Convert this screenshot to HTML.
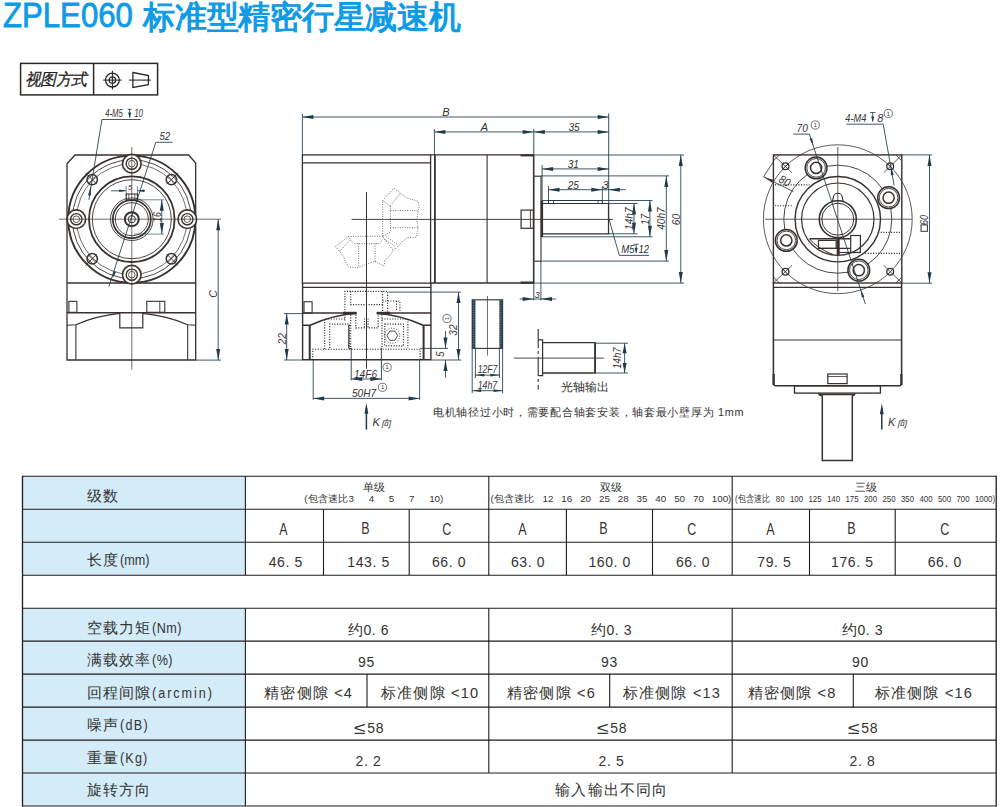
<!DOCTYPE html>
<html lang="zh"><head><meta charset="utf-8"><title>ZPLE060</title>
<style>
html,body{margin:0;padding:0;background:#fff;}
body{width:1002px;height:807px;position:relative;overflow:hidden;font-family:"Liberation Sans",sans-serif;color:#333;}
#title{position:absolute;left:2.6px;top:-9.3px;white-space:nowrap;color:#0d9be6;font-size:35.4px;line-height:48px;-webkit-text-stroke:0.85px #0d9be6;}
#title .l{display:inline-block;transform:scaleX(0.88);transform-origin:0 50%;width:140.7px;}
#title .c{font-size:31.9px;letter-spacing:-0.28px;font-weight:500;-webkit-text-stroke:1.15px #0d9be6;position:relative;top:1.7px;}
svg{position:absolute;left:0;top:0;}
.vm{position:absolute;left:25.3px;top:69.1px;font-size:16.6px;line-height:22px;font-style:italic;color:#222;letter-spacing:-0.9px;white-space:nowrap;-webkit-text-stroke:0.25px #222;transform:scaleX(0.955);transform-origin:0 50%;}
.nt{position:absolute;font-size:10.8px;line-height:14px;color:#333;white-space:nowrap;letter-spacing:0.35px;}
.lab{position:absolute;left:86.6px;font-size:14.8px;line-height:20px;letter-spacing:1.0px;white-space:nowrap;color:#333;}
.lab .en{letter-spacing:0.5px;font-size:14px;display:inline-block;transform:scaleX(0.9);transform-origin:0 50%;margin-left:1px;}
.v{position:absolute;text-align:center;font-size:14px;line-height:20px;white-space:nowrap;color:#333;letter-spacing:0.6px;}
.cjv{font-size:14.5px;}
.abc{font-size:16px;}
.sx{display:inline-block;transform:scaleX(0.78);}
.gap{font-size:14.5px;letter-spacing:1.2px;}
.le{font-size:17px;display:inline-block;transform:scaleX(1.25) translateY(0.5px);margin-right:2.5px;line-height:10px;}
.hd{position:absolute;text-align:center;font-size:10.5px;line-height:13px;color:#333;white-space:nowrap;}
.hd2{position:absolute;font-size:9.8px;line-height:13px;color:#333;white-space:nowrap;text-align:justify;text-align-last:justify;}
.hd2 .cj{letter-spacing:0.2px;display:inline-block;text-align-last:auto;}
.nar{transform:scaleX(0.8);transform-origin:0 50%;}
.kx{position:absolute;font-size:10.5px;line-height:14px;font-style:italic;color:#333;}
</style></head><body>
<div id="title"><span class="l">ZPLE060</span><span class="c">标准型精密行星减速机</span></div>
<svg width="1002" height="807" viewBox="0 0 1002 807">
<rect x="22.5" y="476.30" width="222.9" height="32.97" fill="#d4ebf8"/>
<rect x="22.5" y="509.27" width="222.9" height="32.97" fill="#d4ebf8"/>
<rect x="22.5" y="542.24" width="222.9" height="32.97" fill="#d4ebf8"/>
<rect x="22.5" y="608.18" width="222.9" height="32.97" fill="#d4ebf8"/>
<rect x="22.5" y="641.15" width="222.9" height="32.97" fill="#d4ebf8"/>
<rect x="22.5" y="674.12" width="222.9" height="32.97" fill="#d4ebf8"/>
<rect x="22.5" y="707.09" width="222.9" height="32.97" fill="#d4ebf8"/>
<rect x="22.5" y="740.06" width="222.9" height="32.97" fill="#d4ebf8"/>
<rect x="22.5" y="773.03" width="222.9" height="32.97" fill="#d4ebf8"/>
<line x1="22.5" y1="476.3" x2="996.2" y2="476.3" stroke="#1c1c1c" stroke-width="1.1" />
<line x1="22.5" y1="509.3" x2="996.2" y2="509.3" stroke="#1c1c1c" stroke-width="1.1" />
<line x1="22.5" y1="542.2" x2="996.2" y2="542.2" stroke="#1c1c1c" stroke-width="1.1" />
<line x1="22.5" y1="575.2" x2="996.2" y2="575.2" stroke="#1c1c1c" stroke-width="1.1" />
<line x1="22.5" y1="608.2" x2="996.2" y2="608.2" stroke="#1c1c1c" stroke-width="1.1" />
<line x1="22.5" y1="641.1" x2="996.2" y2="641.1" stroke="#1c1c1c" stroke-width="1.1" />
<line x1="22.5" y1="674.1" x2="996.2" y2="674.1" stroke="#1c1c1c" stroke-width="1.1" />
<line x1="22.5" y1="707.1" x2="996.2" y2="707.1" stroke="#1c1c1c" stroke-width="1.1" />
<line x1="22.5" y1="740.1" x2="996.2" y2="740.1" stroke="#1c1c1c" stroke-width="1.1" />
<line x1="22.5" y1="773.0" x2="996.2" y2="773.0" stroke="#1c1c1c" stroke-width="1.1" />
<line x1="22.5" y1="806.0" x2="996.2" y2="806.0" stroke="#1c1c1c" stroke-width="1.1" />
<line x1="22.5" y1="475.8" x2="22.5" y2="806.5" stroke="#1c1c1c" stroke-width="1.3" />
<line x1="996.2" y1="475.8" x2="996.2" y2="806.5" stroke="#1c1c1c" stroke-width="1.3" />
<line x1="245.4" y1="476.3" x2="245.4" y2="575.2" stroke="#1c1c1c" stroke-width="1.1" />
<line x1="245.4" y1="608.2" x2="245.4" y2="806.0" stroke="#1c1c1c" stroke-width="1.1" />
<line x1="488.8" y1="476.3" x2="488.8" y2="575.2" stroke="#1c1c1c" stroke-width="1.1" />
<line x1="488.8" y1="608.2" x2="488.8" y2="773.0" stroke="#1c1c1c" stroke-width="1.1" />
<line x1="732.2" y1="476.3" x2="732.2" y2="575.2" stroke="#1c1c1c" stroke-width="1.1" />
<line x1="732.2" y1="608.2" x2="732.2" y2="773.0" stroke="#1c1c1c" stroke-width="1.1" />
<line x1="323.5" y1="509.3" x2="323.5" y2="575.2" stroke="#1c1c1c" stroke-width="1.1" />
<line x1="409.2" y1="509.3" x2="409.2" y2="575.2" stroke="#1c1c1c" stroke-width="1.1" />
<line x1="566.4" y1="509.3" x2="566.4" y2="575.2" stroke="#1c1c1c" stroke-width="1.1" />
<line x1="652.5" y1="509.3" x2="652.5" y2="575.2" stroke="#1c1c1c" stroke-width="1.1" />
<line x1="809.5" y1="509.3" x2="809.5" y2="575.2" stroke="#1c1c1c" stroke-width="1.1" />
<line x1="895.2" y1="509.3" x2="895.2" y2="575.2" stroke="#1c1c1c" stroke-width="1.1" />
<line x1="367.0" y1="674.1" x2="367.0" y2="707.1" stroke="#1c1c1c" stroke-width="1.1" />
<line x1="609.7" y1="674.1" x2="609.7" y2="707.1" stroke="#1c1c1c" stroke-width="1.1" />
<line x1="853.3" y1="674.1" x2="853.3" y2="707.1" stroke="#1c1c1c" stroke-width="1.1" />
<rect x="20.6" y="63.4" width="137.0" height="31.5" fill="none" stroke="#2a2a2a" stroke-width="1.5" />
<line x1="93.6" y1="63.4" x2="93.6" y2="94.9" stroke="#2a2a2a" stroke-width="1.5" />
<circle cx="112.4" cy="80.1" r="6.9" fill="none" stroke="#2a2a2a" stroke-width="1.3" />
<circle cx="112.4" cy="80.1" r="3.2" fill="none" stroke="#2a2a2a" stroke-width="1.3" />
<line x1="103.2" y1="80.1" x2="121.6" y2="80.1" stroke="#2a2a2a" stroke-width="1.1" />
<line x1="112.4" y1="70.8" x2="112.4" y2="89.4" stroke="#2a2a2a" stroke-width="1.1" />
<path d="M132.9,72.5 L148.4,75.5 L148.4,84.6 L132.9,87.4 Z" fill="none" stroke="#2a2a2a" stroke-width="1.3" />
<line x1="128.9" y1="80.1" x2="150.8" y2="80.1" stroke="#2a2a2a" stroke-width="1.1" />
<path d="M67,163.8 L75,155 L188.7,155 L195.7,163 L195.7,360 L67,360 Z" fill="none" stroke="#37312f" stroke-width="1.3" />
<line x1="67.0" y1="283.0" x2="195.7" y2="283.0" stroke="#37312f" stroke-width="1.3" />
<circle cx="131.8" cy="219.2" r="63.6" fill="none" stroke="#37312f" stroke-width="1.9" />
<circle cx="131.8" cy="219.2" r="59.4" fill="none" stroke="#37312f" stroke-width="0.9" />
<circle cx="131.8" cy="219.2" r="55.3" fill="none" stroke="#37312f" stroke-width="0.7" />
<circle cx="131.8" cy="219.2" r="42.8" fill="none" stroke="#37312f" stroke-width="1.8" />
<circle cx="131.8" cy="219.2" r="39.5" fill="none" stroke="#37312f" stroke-width="0.9" />
<circle cx="131.8" cy="219.2" r="21.3" fill="none" stroke="#37312f" stroke-width="0.9" />
<circle cx="131.8" cy="219.2" r="19.0" fill="none" stroke="#37312f" stroke-width="1.7" />
<circle cx="131.8" cy="219.2" r="16.5" fill="none" stroke="#37312f" stroke-width="0.9" />
<circle cx="131.8" cy="219.2" r="7.0" fill="none" stroke="#37312f" stroke-width="2.0" />
<circle cx="131.8" cy="219.2" r="3.6" fill="none" stroke="#37312f" stroke-width="1.0" />
<circle cx="187.3" cy="219.2" r="9.3" fill="#fff" stroke="#37312f" stroke-width="1.6"/>
<circle cx="187.3" cy="219.2" r="5.6" fill="none" stroke="#37312f" stroke-width="1.4" />
<circle cx="187.3" cy="219.2" r="3.3" fill="none" stroke="#37312f" stroke-width="0.8" />
<circle cx="131.8" cy="274.7" r="9.3" fill="#fff" stroke="#37312f" stroke-width="1.6"/>
<circle cx="131.8" cy="274.7" r="5.6" fill="none" stroke="#37312f" stroke-width="1.4" />
<circle cx="131.8" cy="274.7" r="3.3" fill="none" stroke="#37312f" stroke-width="0.8" />
<circle cx="76.3" cy="219.2" r="9.3" fill="#fff" stroke="#37312f" stroke-width="1.6"/>
<circle cx="76.3" cy="219.2" r="5.6" fill="none" stroke="#37312f" stroke-width="1.4" />
<circle cx="76.3" cy="219.2" r="3.3" fill="none" stroke="#37312f" stroke-width="0.8" />
<circle cx="131.8" cy="163.7" r="9.3" fill="#fff" stroke="#37312f" stroke-width="1.6"/>
<circle cx="131.8" cy="163.7" r="5.6" fill="none" stroke="#37312f" stroke-width="1.4" />
<circle cx="131.8" cy="163.7" r="3.3" fill="none" stroke="#37312f" stroke-width="0.8" />
<circle cx="171.4" cy="258.8" r="5.2" fill="none" stroke="#37312f" stroke-width="1.5" />
<line x1="166.8" y1="254.2" x2="178.1" y2="265.5" stroke="#37312f" stroke-width="0.9" />
<line x1="175.3" y1="254.9" x2="167.5" y2="262.7" stroke="#37312f" stroke-width="0.9" />
<circle cx="92.2" cy="258.8" r="5.2" fill="none" stroke="#37312f" stroke-width="1.5" />
<line x1="96.8" y1="254.2" x2="85.5" y2="265.5" stroke="#37312f" stroke-width="0.9" />
<line x1="96.1" y1="262.7" x2="88.3" y2="254.9" stroke="#37312f" stroke-width="0.9" />
<circle cx="92.2" cy="179.6" r="5.2" fill="none" stroke="#37312f" stroke-width="1.5" />
<line x1="96.8" y1="184.2" x2="85.5" y2="172.9" stroke="#37312f" stroke-width="0.9" />
<line x1="88.3" y1="183.5" x2="96.1" y2="175.7" stroke="#37312f" stroke-width="0.9" />
<circle cx="171.4" cy="179.6" r="5.2" fill="none" stroke="#37312f" stroke-width="1.5" />
<line x1="166.8" y1="184.2" x2="178.1" y2="172.9" stroke="#37312f" stroke-width="0.9" />
<line x1="167.5" y1="175.7" x2="175.3" y2="183.5" stroke="#37312f" stroke-width="0.9" />
<rect x="126.2" y="194.0" width="11.2" height="6.0" fill="none" stroke="#37312f" stroke-width="1.1" />
<line x1="128.8" y1="194.0" x2="128.8" y2="200.0" stroke="#37312f" stroke-width="0.7" />
<line x1="134.8" y1="194.0" x2="134.8" y2="200.0" stroke="#37312f" stroke-width="0.7" />
<line x1="110.9" y1="190.8" x2="125.8" y2="190.8" stroke="#1f3b48" stroke-width="0.85" />
<polygon points="126.2,190.8 119.2,192.1 119.2,189.5" fill="#1f3b48"/>
<line x1="137.6" y1="190.8" x2="145.0" y2="190.8" stroke="#1f3b48" stroke-width="0.85" />
<polygon points="137.4,190.8 144.4,189.5 144.4,192.1" fill="#1f3b48"/>
<line x1="126.2" y1="186.0" x2="126.2" y2="196.0" stroke="#1f3b48" stroke-width="0.6" />
<line x1="137.4" y1="186.0" x2="137.4" y2="196.0" stroke="#1f3b48" stroke-width="0.6" />
<text x="130.0" y="189.5" font-size="7.5" text-anchor="middle" font-style="italic" font-weight="normal" fill="#333" font-family="Liberation Sans, sans-serif">5</text>
<line x1="137.8" y1="199.8" x2="164.0" y2="199.8" stroke="#1f3b48" stroke-width="0.6" />
<line x1="134.0" y1="234.1" x2="164.0" y2="234.1" stroke="#1f3b48" stroke-width="0.6" />
<line x1="161.8" y1="199.8" x2="161.8" y2="234.1" stroke="#1f3b48" stroke-width="0.85" />
<polygon points="161.8,199.8 163.8,210.8 159.8,210.8" fill="#1f3b48"/>
<polygon points="161.8,234.1 159.8,223.1 163.8,223.1" fill="#1f3b48"/>
<text x="160.6" y="217.0" font-size="10" text-anchor="middle" font-style="italic" font-weight="normal" fill="#333" font-family="Liberation Sans, sans-serif" transform="rotate(-90 160.6 217.0)" textLength="9.8" lengthAdjust="spacingAndGlyphs">16</text>
<line x1="155.8" y1="142.3" x2="172.7" y2="142.3" stroke="#1f3b48" stroke-width="0.85" />
<line x1="155.8" y1="142.3" x2="108.9" y2="286.5" stroke="#1f3b48" stroke-width="0.85" />
<text x="164.8" y="139.8" font-size="11" text-anchor="middle" font-style="italic" font-weight="normal" fill="#333" font-family="Liberation Sans, sans-serif" textLength="10.8" lengthAdjust="spacingAndGlyphs">52</text>
<polygon points="112.6,278.2 113.6,271.1 116.0,271.9" fill="#1f3b48"/>
<line x1="101.9" y1="119.5" x2="140.8" y2="119.5" stroke="#1f3b48" stroke-width="0.85" />
<line x1="101.9" y1="119.5" x2="88.9" y2="199.8" stroke="#1f3b48" stroke-width="0.85" />
<polygon points="90.8,186.5 90.8,195.6 88.0,195.2" fill="#1f3b48"/>
<text x="105.2" y="117.0" font-size="10.5" text-anchor="start" font-style="italic" font-weight="normal" fill="#333" font-family="Liberation Sans, sans-serif" textLength="17.6" lengthAdjust="spacingAndGlyphs">4-M5</text>
<text x="134.2" y="117.0" font-size="10.5" text-anchor="start" font-style="italic" font-weight="normal" fill="#333" font-family="Liberation Sans, sans-serif" textLength="8.8" lengthAdjust="spacingAndGlyphs">10</text>
<line x1="127.7" y1="109.3" x2="131.7" y2="109.3" stroke="#1f3b48" stroke-width="0.8" />
<line x1="129.7" y1="109.3" x2="129.7" y2="117.6" stroke="#1f3b48" stroke-width="0.8" />
<polygon points="129.7,118.1 128.2,112.6 131.2,112.6" fill="#1f3b48"/>
<rect x="68.9" y="301.3" width="8.0" height="11.0" fill="none" stroke="#37312f" stroke-width="1.1" />
<rect x="146.8" y="301.3" width="18.0" height="11.0" fill="none" stroke="#37312f" stroke-width="1.1" />
<line x1="159.8" y1="301.3" x2="159.8" y2="312.3" stroke="#37312f" stroke-width="0.9" />
<line x1="67.0" y1="312.8" x2="195.7" y2="312.8" stroke="#37312f" stroke-width="1.6" />
<path d="M119.8,312.8 L119.8,327.8 L142.8,327.8 L142.8,312.8" fill="none" stroke="#37312f" stroke-width="1.2" />
<path d="M119.8,313.4 Q95,316 75.9,324.8 L67,325.3" fill="none" stroke="#37312f" stroke-width="1.1" />
<path d="M142.8,313.4 Q168,316 187.7,324.8 L195.7,325.3" fill="none" stroke="#37312f" stroke-width="1.1" />
<line x1="75.9" y1="324.8" x2="75.9" y2="360.0" stroke="#37312f" stroke-width="1.1" />
<line x1="187.7" y1="324.8" x2="187.7" y2="360.0" stroke="#37312f" stroke-width="1.1" />
<line x1="131.8" y1="147.0" x2="131.8" y2="369.7" stroke="#37312f" stroke-width="0.7" />
<line x1="59.0" y1="219.2" x2="221.0" y2="219.2" stroke="#37312f" stroke-width="0.7" />
<line x1="195.7" y1="360.1" x2="221.0" y2="360.1" stroke="#1f3b48" stroke-width="0.85" />
<line x1="218.2" y1="219.2" x2="218.2" y2="360.1" stroke="#1f3b48" stroke-width="0.85" />
<polygon points="218.2,219.2 220.2,230.2 216.2,230.2" fill="#1f3b48"/>
<polygon points="218.2,360.1 216.2,349.1 220.2,349.1" fill="#1f3b48"/>
<text x="217.0" y="294.0" font-size="10.5" text-anchor="middle" font-style="italic" font-weight="normal" fill="#333" font-family="Liberation Sans, sans-serif" transform="rotate(-90 217.0 294.0)">C</text>
<line x1="302.4" y1="114.0" x2="302.4" y2="155.0" stroke="#1f3b48" stroke-width="0.85" />
<line x1="302.4" y1="117.0" x2="608.7" y2="117.0" stroke="#1f3b48" stroke-width="0.85" />
<polygon points="302.4,117.0 313.4,115.0 313.4,119.0" fill="#1f3b48"/>
<polygon points="608.7,117.0 597.7,119.0 597.7,115.0" fill="#1f3b48"/>
<text x="446.0" y="116.0" font-size="11" text-anchor="middle" font-style="italic" font-weight="normal" fill="#333" font-family="Liberation Sans, sans-serif">B</text>
<line x1="434.4" y1="129.0" x2="434.4" y2="155.0" stroke="#1f3b48" stroke-width="0.85" />
<line x1="434.4" y1="131.9" x2="533.6" y2="131.9" stroke="#1f3b48" stroke-width="0.85" />
<polygon points="434.4,131.9 445.4,129.9 445.4,133.9" fill="#1f3b48"/>
<polygon points="533.6,131.9 522.6,133.9 522.6,129.9" fill="#1f3b48"/>
<text x="484.3" y="131.0" font-size="11" text-anchor="middle" font-style="italic" font-weight="normal" fill="#333" font-family="Liberation Sans, sans-serif">A</text>
<line x1="533.8" y1="129.0" x2="533.8" y2="300.5" stroke="#1f3b48" stroke-width="0.9" />
<line x1="533.8" y1="131.9" x2="608.7" y2="131.9" stroke="#1f3b48" stroke-width="0.85" />
<polygon points="533.8,131.9 544.8,129.9 544.8,133.9" fill="#1f3b48"/>
<polygon points="608.7,131.9 597.7,133.9 597.7,129.9" fill="#1f3b48"/>
<text x="574.1" y="131.0" font-size="11.5" text-anchor="middle" font-style="italic" font-weight="normal" fill="#333" font-family="Liberation Sans, sans-serif" textLength="11.3" lengthAdjust="spacingAndGlyphs">35</text>
<line x1="608.7" y1="113.5" x2="608.7" y2="219.4" stroke="#1f3b48" stroke-width="0.9" />
<rect x="302.4" y="154.9" width="128.2" height="128.2" fill="none" stroke="#37312f" stroke-width="1.3" />
<line x1="302.4" y1="162.9" x2="430.6" y2="162.9" stroke="#37312f" stroke-width="1.3" />
<line x1="434.9" y1="154.9" x2="434.9" y2="283.1" stroke="#37312f" stroke-width="1.8" />
<path d="M430.6,154.9 L533.6,154.9 M430.6,283 L533.6,283" fill="none" stroke="#37312f" stroke-width="1.3" />
<line x1="533.6" y1="154.9" x2="533.6" y2="283.0" stroke="#37312f" stroke-width="1.4" />
<line x1="487.1" y1="154.9" x2="487.1" y2="283.0" stroke="#37312f" stroke-width="1.1" />
<line x1="520.6" y1="155.3" x2="533.6" y2="155.3" stroke="#37312f" stroke-width="2.2" />
<line x1="520.6" y1="282.6" x2="533.6" y2="282.6" stroke="#37312f" stroke-width="2.2" />
<line x1="302.4" y1="287.4" x2="431.0" y2="287.4" stroke="#37312f" stroke-width="1.4" />
<line x1="351.6" y1="219.4" x2="613.0" y2="219.4" stroke="#37312f" stroke-width="0.9" />
<line x1="366.5" y1="192.0" x2="366.5" y2="368.6" stroke="#37312f" stroke-width="1.0" />
<path d="M382.7,200.6 L393.9,188.2 L406.3,197.7 L418.1,201.2 L419.2,206.5 L416.9,218.9 L418.1,228.3 L416.3,237.1 L407.4,237.7 L402.7,241.2 L393.3,250.7 L382.7,236.5 L382.7,200.6" fill="none" stroke="#3a3a3a" stroke-width="0.8" stroke-dasharray="0.9 1.5"/>
<path d="M382.7,200.6 L390.4,205.9 L390.4,231.8 L382.7,236.5" fill="none" stroke="#3a3a3a" stroke-width="0.8" stroke-dasharray="0.9 1.5"/>
<path d="M390.4,210.6 L418.1,210.6" fill="none" stroke="#3a3a3a" stroke-width="0.8" stroke-dasharray="0.9 1.5"/>
<path d="M390.4,227.7 L418.1,227.7" fill="none" stroke="#3a3a3a" stroke-width="0.8" stroke-dasharray="0.9 1.5"/>
<path d="M390.4,205.9 L400.4,193.0" fill="none" stroke="#3a3a3a" stroke-width="0.8" stroke-dasharray="0.9 1.5"/>
<path d="M382.7,236.3 L348.6,236.3 L335.6,246.5 L343.8,256.6 L345.0,260.7 L348.6,267.2 L358.0,267.8 L366.2,264.2 L374.5,261.3 L383.9,266.0 L385.1,260.1 L389.2,256.6 L393.3,250.7" fill="none" stroke="#3a3a3a" stroke-width="0.8" stroke-dasharray="0.9 1.5"/>
<path d="M348.6,236.3 L350.3,240.1 L354.4,243.6 L379.2,243.6 L382.7,238.9" fill="none" stroke="#3a3a3a" stroke-width="0.8" stroke-dasharray="0.9 1.5"/>
<path d="M350.3,240.1 L339.7,251.3" fill="none" stroke="#3a3a3a" stroke-width="0.8" stroke-dasharray="0.9 1.5"/>
<path d="M358.6,243.6 L358.6,267.2" fill="none" stroke="#3a3a3a" stroke-width="0.8" stroke-dasharray="0.9 1.5"/>
<path d="M375.1,243.6 L375.1,262.4" fill="none" stroke="#3a3a3a" stroke-width="0.8" stroke-dasharray="0.9 1.5"/>
<path d="M383.9,238.9 L395.7,247.1" fill="none" stroke="#3a3a3a" stroke-width="0.8" stroke-dasharray="0.9 1.5"/>
<path d="M386.2,236.5 L398.0,244.8" fill="none" stroke="#3a3a3a" stroke-width="0.8" stroke-dasharray="0.9 1.5"/>
<rect x="533.6" y="176.2" width="7.4" height="85.0" fill="none" stroke="#37312f" stroke-width="1.1" />
<line x1="541.9" y1="200.5" x2="541.9" y2="237.0" stroke="#37312f" stroke-width="2.4" />
<path d="M542,203.5 L608.5,203.5 L608.5,233.8 L542,233.8" fill="none" stroke="#37312f" stroke-width="1.2" />
<path d="M548.5,203.5 L548.5,200.5 L602.3,200.5 L602.3,203.5" fill="none" stroke="#37312f" stroke-width="1.1" />
<line x1="553.5" y1="200.5" x2="553.5" y2="203.5" stroke="#37312f" stroke-width="0.8" />
<line x1="598.0" y1="200.5" x2="598.0" y2="203.5" stroke="#37312f" stroke-width="0.8" />
<rect x="521.1" y="210.1" width="12.3" height="18.2" fill="none" stroke="#37312f" stroke-width="1.2" />
<line x1="530.4" y1="210.1" x2="530.4" y2="228.3" stroke="#37312f" stroke-width="0.9" />
<line x1="533.6" y1="155.0" x2="684.0" y2="155.0" stroke="#1f3b48" stroke-width="0.85" />
<line x1="533.6" y1="283.1" x2="684.0" y2="283.1" stroke="#1f3b48" stroke-width="0.85" />
<line x1="680.8" y1="155.0" x2="680.8" y2="283.1" stroke="#1f3b48" stroke-width="0.85" />
<polygon points="680.8,155.0 682.8,166.0 678.8,166.0" fill="#1f3b48"/>
<polygon points="680.8,283.1 678.8,272.1 682.8,272.1" fill="#1f3b48"/>
<text x="680.0" y="219.6" font-size="11.5" text-anchor="middle" font-style="italic" font-weight="normal" fill="#333" font-family="Liberation Sans, sans-serif" transform="rotate(-90 680.0 219.6)" textLength="11.3" lengthAdjust="spacingAndGlyphs">60</text>
<line x1="541.0" y1="175.9" x2="669.0" y2="175.9" stroke="#1f3b48" stroke-width="0.85" />
<line x1="541.0" y1="261.1" x2="669.0" y2="261.1" stroke="#1f3b48" stroke-width="0.85" />
<line x1="666.3" y1="175.9" x2="666.3" y2="261.1" stroke="#1f3b48" stroke-width="0.85" />
<polygon points="666.3,175.9 668.3,186.9 664.3,186.9" fill="#1f3b48"/>
<polygon points="666.3,261.1 664.3,250.1 668.3,250.1" fill="#1f3b48"/>
<text x="665.2" y="218.6" font-size="11.5" text-anchor="middle" font-style="italic" font-weight="normal" fill="#333" font-family="Liberation Sans, sans-serif" transform="rotate(-90 665.2 218.6)" textLength="22.5" lengthAdjust="spacingAndGlyphs">40h7</text>
<line x1="542.0" y1="200.5" x2="652.4" y2="200.5" stroke="#1f3b48" stroke-width="0.85" />
<line x1="542.0" y1="236.8" x2="652.4" y2="236.8" stroke="#1f3b48" stroke-width="0.85" />
<line x1="649.9" y1="200.5" x2="649.9" y2="236.8" stroke="#1f3b48" stroke-width="0.85" />
<polygon points="649.9,200.5 651.9,211.5 647.9,211.5" fill="#1f3b48"/>
<polygon points="649.9,236.8 647.9,225.8 651.9,225.8" fill="#1f3b48"/>
<text x="649.0" y="219.4" font-size="11.5" text-anchor="middle" font-style="italic" font-weight="normal" fill="#333" font-family="Liberation Sans, sans-serif" transform="rotate(-90 649.0 219.4)" textLength="11.3" lengthAdjust="spacingAndGlyphs">17</text>
<line x1="608.5" y1="203.5" x2="637.6" y2="203.5" stroke="#1f3b48" stroke-width="0.85" />
<line x1="608.5" y1="233.8" x2="637.6" y2="233.8" stroke="#1f3b48" stroke-width="0.85" />
<line x1="634.0" y1="203.5" x2="634.0" y2="233.8" stroke="#1f3b48" stroke-width="0.85" />
<polygon points="634.0,203.5 636.0,214.5 632.0,214.5" fill="#1f3b48"/>
<polygon points="634.0,233.8 632.0,222.8 636.0,222.8" fill="#1f3b48"/>
<text x="633.0" y="218.7" font-size="11.5" text-anchor="middle" font-style="italic" font-weight="normal" fill="#333" font-family="Liberation Sans, sans-serif" transform="rotate(-90 633.0 218.7)" textLength="22.5" lengthAdjust="spacingAndGlyphs">14h7</text>
<line x1="542.1" y1="165.0" x2="542.1" y2="200.5" stroke="#1f3b48" stroke-width="0.85" />
<line x1="542.1" y1="168.9" x2="608.7" y2="168.9" stroke="#1f3b48" stroke-width="0.85" />
<polygon points="542.1,168.9 553.1,166.9 553.1,170.9" fill="#1f3b48"/>
<polygon points="608.7,168.9 597.7,170.9 597.7,166.9" fill="#1f3b48"/>
<text x="573.3" y="167.9" font-size="11.5" text-anchor="middle" font-style="italic" font-weight="normal" fill="#333" font-family="Liberation Sans, sans-serif" textLength="11.3" lengthAdjust="spacingAndGlyphs">31</text>
<line x1="548.5" y1="186.0" x2="548.5" y2="200.5" stroke="#1f3b48" stroke-width="0.85" />
<line x1="602.3" y1="186.0" x2="602.3" y2="200.5" stroke="#1f3b48" stroke-width="0.85" />
<line x1="548.5" y1="189.7" x2="602.3" y2="189.7" stroke="#1f3b48" stroke-width="0.85" />
<polygon points="548.5,189.7 559.5,187.7 559.5,191.7" fill="#1f3b48"/>
<polygon points="602.3,189.7 591.3,191.7 591.3,187.7" fill="#1f3b48"/>
<text x="573.3" y="188.8" font-size="11.5" text-anchor="middle" font-style="italic" font-weight="normal" fill="#333" font-family="Liberation Sans, sans-serif" textLength="11.3" lengthAdjust="spacingAndGlyphs">25</text>
<line x1="602.3" y1="189.7" x2="625.7" y2="189.7" stroke="#1f3b48" stroke-width="0.85" />
<polygon points="608.8,189.7 619.8,187.7 619.8,191.7" fill="#1f3b48"/>
<text x="605.5" y="188.7" font-size="11" text-anchor="middle" font-style="italic" font-weight="normal" fill="#333" font-family="Liberation Sans, sans-serif">3</text>
<line x1="608.8" y1="218.4" x2="619.3" y2="255.4" stroke="#1f3b48" stroke-width="0.85" />
<line x1="619.3" y1="255.4" x2="649.0" y2="255.4" stroke="#1f3b48" stroke-width="0.85" />
<text x="621.3" y="253.3" font-size="11" text-anchor="start" font-style="italic" font-weight="normal" fill="#333" font-family="Liberation Sans, sans-serif" textLength="13.4" lengthAdjust="spacingAndGlyphs">M5</text>
<text x="638.5" y="253.3" font-size="11" text-anchor="start" font-style="italic" font-weight="normal" fill="#333" font-family="Liberation Sans, sans-serif" textLength="10.5" lengthAdjust="spacingAndGlyphs">12</text>
<line x1="633.7" y1="244.3" x2="638.7" y2="244.3" stroke="#1f3b48" stroke-width="0.8" />
<line x1="636.2" y1="244.3" x2="636.2" y2="252.8" stroke="#1f3b48" stroke-width="0.8" />
<polygon points="636.2,253.3 634.7,247.8 637.7,247.8" fill="#1f3b48"/>
<line x1="540.9" y1="261.3" x2="540.9" y2="300.5" stroke="#1f3b48" stroke-width="0.85" />
<line x1="519.7" y1="299.0" x2="556.0" y2="299.0" stroke="#1f3b48" stroke-width="0.85" />
<polygon points="533.6,299.0 522.6,301.0 522.6,297.0" fill="#1f3b48"/>
<polygon points="541.0,299.0 552.0,297.0 552.0,301.0" fill="#1f3b48"/>
<text x="537.2" y="297.8" font-size="9" text-anchor="middle" font-style="italic" font-weight="normal" fill="#333" font-family="Liberation Sans, sans-serif">3</text>
<path d="M302.6,283 L302.6,359.8 L430.9,359.8 L430.9,283" fill="none" stroke="#37312f" stroke-width="1.4" />
<line x1="348.8" y1="324.9" x2="348.8" y2="348.6" stroke="#37312f" stroke-width="1.1" />
<line x1="348.8" y1="348.6" x2="351.5" y2="348.6" stroke="#37312f" stroke-width="1.0" />
<rect x="304.0" y="301.7" width="8.1" height="11.3" fill="none" stroke="#37312f" stroke-width="1.1" />
<line x1="302.4" y1="313.0" x2="356.5" y2="313.0" stroke="#37312f" stroke-width="1.7" />
<line x1="376.8" y1="313.0" x2="431.2" y2="313.0" stroke="#37312f" stroke-width="1.7" />
<line x1="343.0" y1="313.0" x2="356.5" y2="313.0" stroke="#37312f" stroke-width="2.4" />
<line x1="376.8" y1="313.0" x2="390.0" y2="313.0" stroke="#37312f" stroke-width="2.4" />
<path d="M302.4,325.2 L310.2,325.2 Q335,314.5 356.5,313.6" fill="none" stroke="#37312f" stroke-width="1.5" />
<path d="M431.2,325.2 L423.1,325.2 Q398,314.5 376.8,313.6" fill="none" stroke="#37312f" stroke-width="1.5" />
<line x1="309.7" y1="325.2" x2="309.7" y2="359.8" stroke="#37312f" stroke-width="2.0" />
<line x1="423.6" y1="325.2" x2="423.6" y2="359.8" stroke="#37312f" stroke-width="2.0" />
<path d="M312.7,359.8 L312.7,349.2 L420.2,349.2 L420.2,359.8" fill="none" stroke="#2e2e2e" stroke-width="1.15" stroke-dasharray="1.1 1.5"/>
<path d="M344.9,320.5 L344.9,291.3 L387.6,291.3 L387.6,313" fill="none" stroke="#2e2e2e" stroke-width="1.15" stroke-dasharray="1.1 1.5"/>
<path d="M350.7,291.3 L350.7,304.6 L382.6,304.6 L382.6,291.3" fill="none" stroke="#2e2e2e" stroke-width="1.15" stroke-dasharray="1.1 1.5"/>
<path d="M382.6,301 L399.9,301 L399.9,311 M396.5,301 L396.5,311 M382.6,304.6 L382.6,313" fill="none" stroke="#2e2e2e" stroke-width="1.15" stroke-dasharray="1.1 1.5"/>
<path d="M350.7,314.7 L350.7,348 M355.8,314.7 L355.8,327.8 L378.2,327.8 L378.2,314.7 M382,314.7 L382,348" fill="none" stroke="#2e2e2e" stroke-width="1.15" stroke-dasharray="1.1 1.5"/>
<path d="M364.5,318.4 L364.5,327.8 M368.1,318.4 L368.1,327.8" fill="none" stroke="#2e2e2e" stroke-width="1.15" stroke-dasharray="1.1 1.5"/>
<path d="M324.7,349.2 L324.7,319 L345,319 M329.7,348 L329.7,324.1 L349.3,324.1 L349.3,348" fill="none" stroke="#2e2e2e" stroke-width="1.15" stroke-dasharray="1.1 1.5"/>
<path d="M381.8,319 L407.9,319 L407.9,348 M384.7,324.1 L403.5,324.1 L403.5,345.8 L384.7,345.8 Z" fill="none" stroke="#2e2e2e" stroke-width="1.15" stroke-dasharray="1.1 1.5"/>
<circle cx="392.3" cy="335.7" r="7.5" fill="none" stroke="#3c3c3c" stroke-width="0.85" stroke-dasharray="1.1 1.5"/>
<path d="M397.6,335.7 L394.9,340.3 L389.7,340.3 L387.0,335.7 L389.7,331.1 L394.9,331.1 Z" fill="none" stroke="#3c3c3c" stroke-width="0.9" />
<line x1="284.0" y1="313.6" x2="302.4" y2="313.6" stroke="#1f3b48" stroke-width="0.85" />
<line x1="284.0" y1="360.0" x2="302.4" y2="360.0" stroke="#1f3b48" stroke-width="0.85" />
<line x1="286.7" y1="313.6" x2="286.7" y2="360.0" stroke="#1f3b48" stroke-width="0.85" />
<polygon points="286.7,313.6 288.7,324.6 284.7,324.6" fill="#1f3b48"/>
<polygon points="286.7,360.0 284.7,349.0 288.7,349.0" fill="#1f3b48"/>
<text x="285.6" y="338.8" font-size="11.5" text-anchor="middle" font-style="italic" font-weight="normal" fill="#333" font-family="Liberation Sans, sans-serif" transform="rotate(-90 285.6 338.8)" textLength="11.3" lengthAdjust="spacingAndGlyphs">22</text>
<line x1="388.4" y1="292.1" x2="461.1" y2="292.1" stroke="#1f3b48" stroke-width="0.85" />
<line x1="431.2" y1="360.0" x2="461.1" y2="360.0" stroke="#1f3b48" stroke-width="0.85" />
<line x1="458.5" y1="292.1" x2="458.5" y2="360.0" stroke="#1f3b48" stroke-width="0.85" />
<polygon points="458.5,292.1 460.5,303.1 456.5,303.1" fill="#1f3b48"/>
<polygon points="458.5,360.0 456.5,349.0 460.5,349.0" fill="#1f3b48"/>
<text x="457.4" y="330.0" font-size="11.5" text-anchor="middle" font-style="italic" font-weight="normal" fill="#333" font-family="Liberation Sans, sans-serif" transform="rotate(-90 457.4 330.0)" textLength="11.3" lengthAdjust="spacingAndGlyphs">32</text>
<circle cx="447.0" cy="318.5" r="4.1" fill="none" stroke="#3a3a3a" stroke-width="0.7" />
<text x="449.1" y="318.5" font-size="5.8" text-anchor="middle" font-style="normal" font-weight="normal" fill="#333" font-family="Liberation Sans, sans-serif" transform="rotate(-90 449.1 318.5)">1</text>
<line x1="420.2" y1="348.4" x2="448.0" y2="348.4" stroke="#1f3b48" stroke-width="0.85" />
<line x1="445.5" y1="331.0" x2="445.5" y2="348.4" stroke="#1f3b48" stroke-width="0.85" />
<polygon points="445.5,348.4 443.5,337.4 447.5,337.4" fill="#1f3b48"/>
<line x1="445.5" y1="360.0" x2="445.5" y2="377.7" stroke="#1f3b48" stroke-width="0.85" />
<polygon points="445.5,360.0 447.5,371.0 443.5,371.0" fill="#1f3b48"/>
<text x="444.4" y="354.2" font-size="10" text-anchor="middle" font-style="italic" font-weight="normal" fill="#333" font-family="Liberation Sans, sans-serif" transform="rotate(-90 444.4 354.2)">5</text>
<line x1="351.2" y1="347.7" x2="351.2" y2="380.3" stroke="#1f3b48" stroke-width="0.9" />
<line x1="381.4" y1="347.7" x2="381.4" y2="380.3" stroke="#1f3b48" stroke-width="0.9" />
<line x1="351.2" y1="379.0" x2="381.4" y2="379.0" stroke="#1f3b48" stroke-width="0.85" />
<polygon points="351.2,379.0 362.2,377.0 362.2,381.0" fill="#1f3b48"/>
<polygon points="381.4,379.0 370.4,381.0 370.4,377.0" fill="#1f3b48"/>
<text x="365.5" y="378.0" font-size="11.5" text-anchor="middle" font-style="italic" font-weight="normal" fill="#333" font-family="Liberation Sans, sans-serif" textLength="23.1" lengthAdjust="spacingAndGlyphs">14F6</text>
<circle cx="387.1" cy="367.3" r="4.1" fill="none" stroke="#3a3a3a" stroke-width="0.7" />
<text x="387.1" y="369.4" font-size="5.8" text-anchor="middle" font-style="normal" font-weight="normal" fill="#333" font-family="Liberation Sans, sans-serif">1</text>
<line x1="313.2" y1="360.0" x2="313.2" y2="399.7" stroke="#1f3b48" stroke-width="0.85" />
<line x1="419.6" y1="360.0" x2="419.6" y2="399.7" stroke="#1f3b48" stroke-width="0.85" />
<line x1="313.2" y1="398.4" x2="419.6" y2="398.4" stroke="#1f3b48" stroke-width="0.85" />
<polygon points="313.2,398.4 324.2,396.4 324.2,400.4" fill="#1f3b48"/>
<polygon points="419.6,398.4 408.6,400.4 408.6,396.4" fill="#1f3b48"/>
<text x="364.0" y="397.4" font-size="11.5" text-anchor="middle" font-style="italic" font-weight="normal" fill="#333" font-family="Liberation Sans, sans-serif" textLength="24.2" lengthAdjust="spacingAndGlyphs">50H7</text>
<circle cx="382.5" cy="387.3" r="4.1" fill="none" stroke="#3a3a3a" stroke-width="0.7" />
<text x="382.5" y="389.4" font-size="5.8" text-anchor="middle" font-style="normal" font-weight="normal" fill="#333" font-family="Liberation Sans, sans-serif">1</text>
<line x1="366.4" y1="429.6" x2="366.4" y2="408.0" stroke="#1f3b48" stroke-width="1.5" />
<polygon points="366.4,402.8 368.3,413.8 364.5,413.8" fill="#1f3b48"/>
<text x="372.5" y="426.3" font-size="11" text-anchor="start" font-style="italic" font-weight="normal" fill="#333" font-family="Liberation Sans, sans-serif">K</text>
<rect x="472.2" y="299.8" width="30.4" height="48.6" fill="none" stroke="#37312f" stroke-width="1.1" />
<rect x="472.2" y="299.8" width="3.2" height="48.6" fill="#1f3b48"/>
<rect x="499.4" y="299.8" width="3.2" height="48.6" fill="#1f3b48"/>
<line x1="473.8" y1="300.0" x2="473.8" y2="348.4" stroke="#9ab" stroke-width="0.8" stroke-dasharray="1.2 1.2"/>
<line x1="501.0" y1="300.0" x2="501.0" y2="348.4" stroke="#9ab" stroke-width="0.8" stroke-dasharray="1.2 1.2"/>
<line x1="487.5" y1="296.0" x2="487.5" y2="355.6" stroke="#37312f" stroke-width="0.7" />
<line x1="472.2" y1="348.4" x2="472.2" y2="393.2" stroke="#1f3b48" stroke-width="0.85" />
<line x1="502.6" y1="348.4" x2="502.6" y2="393.2" stroke="#1f3b48" stroke-width="0.85" />
<line x1="475.4" y1="348.4" x2="475.4" y2="378.0" stroke="#1f3b48" stroke-width="0.85" />
<line x1="499.4" y1="348.4" x2="499.4" y2="378.0" stroke="#1f3b48" stroke-width="0.85" />
<line x1="475.4" y1="375.1" x2="499.4" y2="375.1" stroke="#1f3b48" stroke-width="0.85" />
<polygon points="475.4,375.1 484.4,373.7 484.4,376.5" fill="#1f3b48"/>
<polygon points="499.4,375.1 490.4,376.5 490.4,373.7" fill="#1f3b48"/>
<text x="487.4" y="373.0" font-size="10.5" text-anchor="middle" font-style="italic" font-weight="normal" fill="#333" font-family="Liberation Sans, sans-serif" textLength="19.5" lengthAdjust="spacingAndGlyphs">12F7</text>
<line x1="472.2" y1="390.7" x2="502.6" y2="390.7" stroke="#1f3b48" stroke-width="0.85" />
<polygon points="472.2,390.7 481.2,389.3 481.2,392.1" fill="#1f3b48"/>
<polygon points="502.6,390.7 493.6,392.1 493.6,389.3" fill="#1f3b48"/>
<text x="487.4" y="388.6" font-size="10.5" text-anchor="middle" font-style="italic" font-weight="normal" fill="#333" font-family="Liberation Sans, sans-serif" textLength="19.5" lengthAdjust="spacingAndGlyphs">14h7</text>
<path d="M538.3,339.8 L542.6,339.8 L542.6,375.7 L538.3,375.7" fill="none" stroke="#37312f" stroke-width="1.2" />
<path d="M542.6,342.7 L595.1,342.7 L595.1,373 L542.6,373" fill="none" stroke="#37312f" stroke-width="1.3" />
<line x1="595.1" y1="342.7" x2="595.1" y2="373.0" stroke="#37312f" stroke-width="1.6" />
<line x1="538.2" y1="329.0" x2="538.2" y2="389.5" stroke="#37312f" stroke-width="1.1" stroke-dasharray="19 3 3 3"/>
<line x1="513.9" y1="358.1" x2="603.7" y2="358.1" stroke="#37312f" stroke-width="0.9" />
<line x1="595.1" y1="343.2" x2="628.0" y2="343.2" stroke="#1f3b48" stroke-width="0.85" />
<line x1="595.1" y1="373.0" x2="628.0" y2="373.0" stroke="#1f3b48" stroke-width="0.85" />
<line x1="624.6" y1="343.2" x2="624.6" y2="373.0" stroke="#1f3b48" stroke-width="0.85" />
<polygon points="624.6,343.2 626.6,353.2 622.6,353.2" fill="#1f3b48"/>
<polygon points="624.6,373.0 622.6,363.0 626.6,363.0" fill="#1f3b48"/>
<text x="620.8" y="358.0" font-size="11" text-anchor="middle" font-style="italic" font-weight="normal" fill="#333" font-family="Liberation Sans, sans-serif" transform="rotate(-90 620.8 358.0)" textLength="21.5" lengthAdjust="spacingAndGlyphs">14h7</text>
<rect x="773.4" y="154.9" width="128.4" height="128.1" fill="none" stroke="#37312f" stroke-width="1.4" />
<circle cx="837.8" cy="219.2" r="74.4" fill="none" stroke="#37312f" stroke-width="0.8" />
<circle cx="785.5" cy="166.3" r="3.4" fill="none" stroke="#37312f" stroke-width="1.3" />
<line x1="773.4" y1="154.9" x2="792.0" y2="172.8" stroke="#37312f" stroke-width="0.8" />
<line x1="782.7" y1="169.1" x2="788.3" y2="163.5" stroke="#37312f" stroke-width="0.8" />
<line x1="773.4" y1="160.9" x2="779.4" y2="154.9" stroke="#37312f" stroke-width="0.9" />
<circle cx="890.2" cy="166.3" r="3.4" fill="none" stroke="#37312f" stroke-width="1.3" />
<line x1="901.8" y1="154.9" x2="883.7" y2="172.8" stroke="#37312f" stroke-width="0.8" />
<line x1="893.0" y1="169.1" x2="887.4" y2="163.5" stroke="#37312f" stroke-width="0.8" />
<line x1="901.8" y1="160.9" x2="895.8" y2="154.9" stroke="#37312f" stroke-width="0.9" />
<circle cx="785.5" cy="271.8" r="3.4" fill="none" stroke="#37312f" stroke-width="1.3" />
<line x1="773.4" y1="283.0" x2="792.0" y2="265.3" stroke="#37312f" stroke-width="0.8" />
<line x1="782.7" y1="269.0" x2="788.3" y2="274.6" stroke="#37312f" stroke-width="0.8" />
<line x1="773.4" y1="277.0" x2="779.4" y2="283.0" stroke="#37312f" stroke-width="0.9" />
<circle cx="890.2" cy="271.8" r="3.4" fill="none" stroke="#37312f" stroke-width="1.3" />
<line x1="901.8" y1="283.0" x2="883.7" y2="265.3" stroke="#37312f" stroke-width="0.8" />
<line x1="893.0" y1="269.0" x2="887.4" y2="274.6" stroke="#37312f" stroke-width="0.8" />
<line x1="901.8" y1="277.0" x2="895.8" y2="283.0" stroke="#37312f" stroke-width="0.9" />
<circle cx="837.8" cy="219.2" r="54.0" fill="none" stroke="#37312f" stroke-width="0.9" />
<circle cx="837.8" cy="219.2" r="42.7" fill="none" stroke="#37312f" stroke-width="1.4" />
<circle cx="837.8" cy="219.2" r="36.2" fill="none" stroke="#37312f" stroke-width="1.2" />
<circle cx="837.8" cy="219.2" r="18.5" fill="none" stroke="#37312f" stroke-width="1.6" />
<circle cx="837.8" cy="219.2" r="16.0" fill="none" stroke="#37312f" stroke-width="1.0" />
<path d="M832.3,201.5 L833.3,197.7 A4.5,4.5 0 0 1 842.3,197.7 L843.3,201.5" fill="none" stroke="#37312f" stroke-width="1.1" />
<circle cx="816.1" cy="167.9" r="10.9" fill="#fff" stroke="#37312f" stroke-width="1.5"/>
<circle cx="816.1" cy="167.9" r="9.3" fill="none" stroke="#37312f" stroke-width="0.9" />
<circle cx="816.1" cy="167.9" r="5.6" fill="none" stroke="#37312f" stroke-width="1.5" />
<circle cx="888.6" cy="197.7" r="10.9" fill="#fff" stroke="#37312f" stroke-width="1.5"/>
<circle cx="888.6" cy="197.7" r="9.3" fill="none" stroke="#37312f" stroke-width="0.9" />
<circle cx="888.6" cy="197.7" r="5.6" fill="none" stroke="#37312f" stroke-width="1.5" />
<circle cx="786.3" cy="240.4" r="10.9" fill="#fff" stroke="#37312f" stroke-width="1.5"/>
<circle cx="786.3" cy="240.4" r="9.3" fill="none" stroke="#37312f" stroke-width="0.9" />
<circle cx="786.3" cy="240.4" r="5.6" fill="none" stroke="#37312f" stroke-width="1.5" />
<circle cx="858.8" cy="270.2" r="10.9" fill="#fff" stroke="#37312f" stroke-width="1.5"/>
<circle cx="858.8" cy="270.2" r="9.3" fill="none" stroke="#37312f" stroke-width="0.9" />
<circle cx="858.8" cy="270.2" r="5.6" fill="none" stroke="#37312f" stroke-width="1.5" />
<line x1="809.6" y1="238.8" x2="850.7" y2="238.8" stroke="#37312f" stroke-width="1.4" />
<rect x="850.7" y="235.5" width="9.7" height="17.0" fill="none" stroke="#37312f" stroke-width="1.2" />
<rect x="818.5" y="240.4" width="17.7" height="8.0" fill="none" stroke="#37312f" stroke-width="1.2" />
<line x1="838.2" y1="238.8" x2="838.2" y2="255.0" stroke="#37312f" stroke-width="3.0" />
<line x1="818.5" y1="248.4" x2="850.7" y2="248.4" stroke="#37312f" stroke-width="1.1" />
<line x1="839.4" y1="252.5" x2="860.4" y2="252.5" stroke="#37312f" stroke-width="1.1" />
<path d="M809.6,238.8 Q818,249 833,254.5" fill="none" stroke="#37312f" stroke-width="1.0" />
<line x1="775.0" y1="184.8" x2="809.6" y2="184.8" stroke="#2e2e2e" stroke-width="1.15" stroke-dasharray="1.1 1.5"/>
<line x1="775.0" y1="205.7" x2="792.7" y2="205.7" stroke="#2e2e2e" stroke-width="1.15" stroke-dasharray="1.1 1.5"/>
<line x1="878.1" y1="232.3" x2="901.8" y2="232.3" stroke="#2e2e2e" stroke-width="1.15" stroke-dasharray="1.1 1.5"/>
<line x1="865.2" y1="253.3" x2="901.8" y2="253.3" stroke="#2e2e2e" stroke-width="1.15" stroke-dasharray="1.1 1.5"/>
<line x1="837.8" y1="147.0" x2="837.8" y2="291.0" stroke="#37312f" stroke-width="0.8" />
<line x1="765.0" y1="219.2" x2="912.0" y2="219.2" stroke="#37312f" stroke-width="0.8" />
<path d="M773.4,282.8 L773.4,384.3 L774.9,385.8 L899.9,385.8 L901.6,384.3 L901.6,282.8" fill="none" stroke="#37312f" stroke-width="1.55" />
<line x1="773.4" y1="287.3" x2="901.6" y2="287.3" stroke="#37312f" stroke-width="1.2" />
<line x1="773.4" y1="340.0" x2="901.6" y2="340.0" stroke="#37312f" stroke-width="1.2" />
<line x1="773.7" y1="374.0" x2="773.7" y2="385.0" stroke="#37312f" stroke-width="2.2" />
<line x1="901.3" y1="374.0" x2="901.3" y2="385.0" stroke="#37312f" stroke-width="2.2" />
<rect x="794.5" y="385.8" width="85.9" height="7.3" fill="none" stroke="#37312f" stroke-width="1.35" />
<path d="M819,393.1 L819,394.5 L822.3,396 L822.3,460.5 L852.3,460.5 L852.3,396 L854.5,394.5 L854.5,393.1" fill="none" stroke="#37312f" stroke-width="1.5" />
<line x1="819.0" y1="394.6" x2="854.5" y2="394.6" stroke="#37312f" stroke-width="1.5" />
<rect x="827.8" y="374.0" width="19.3" height="9.6" fill="none" stroke="#37312f" stroke-width="1.2" />
<line x1="827.8" y1="376.5" x2="847.1" y2="376.5" stroke="#37312f" stroke-width="0.8" />
<line x1="901.8" y1="154.9" x2="932.2" y2="154.9" stroke="#1f3b48" stroke-width="0.85" />
<line x1="901.8" y1="283.2" x2="932.2" y2="283.2" stroke="#1f3b48" stroke-width="0.85" />
<line x1="929.5" y1="154.9" x2="929.5" y2="283.2" stroke="#1f3b48" stroke-width="0.85" />
<polygon points="929.5,154.9 931.5,165.9 927.5,165.9" fill="#1f3b48"/>
<polygon points="929.5,283.2 927.5,272.2 931.5,272.2" fill="#1f3b48"/>
<text x="927.8" y="220.0" font-size="10" text-anchor="middle" font-style="italic" font-weight="normal" fill="#333" font-family="Liberation Sans, sans-serif" transform="rotate(-90 927.8 220.0)" textLength="10" lengthAdjust="spacingAndGlyphs">60</text>
<rect x="921.0" y="224.9" width="6.4" height="6.4" fill="none" stroke="#333" stroke-width="1.0" />
<line x1="793.3" y1="134.1" x2="809.4" y2="134.1" stroke="#1f3b48" stroke-width="0.85" />
<line x1="809.4" y1="134.1" x2="865.4" y2="304.0" stroke="#1f3b48" stroke-width="0.85" />
<polygon points="813.3,146.0 809.5,138.8 812.1,138.0" fill="#1f3b48"/>
<polygon points="860.6,289.5 864.4,296.7 861.8,297.5" fill="#1f3b48"/>
<text x="796.5" y="131.8" font-size="11.5" text-anchor="start" font-style="italic" font-weight="normal" fill="#333" font-family="Liberation Sans, sans-serif" textLength="11.3" lengthAdjust="spacingAndGlyphs">70</text>
<circle cx="815.3" cy="125.0" r="4.1" fill="none" stroke="#3a3a3a" stroke-width="0.7" />
<text x="815.3" y="127.1" font-size="5.8" text-anchor="middle" font-style="normal" font-weight="normal" fill="#333" font-family="Liberation Sans, sans-serif">1</text>
<line x1="846.5" y1="124.2" x2="883.2" y2="124.2" stroke="#1f3b48" stroke-width="0.85" />
<line x1="883.2" y1="124.2" x2="894.1" y2="185.4" stroke="#1f3b48" stroke-width="0.85" />
<polygon points="890.9,167.2 893.7,174.8 890.9,175.3" fill="#1f3b48"/>
<text x="845.3" y="122.3" font-size="11" text-anchor="start" font-style="italic" font-weight="normal" fill="#333" font-family="Liberation Sans, sans-serif" textLength="21" lengthAdjust="spacingAndGlyphs">4-M4</text>
<text x="877.2" y="122.3" font-size="11" text-anchor="start" font-style="italic" font-weight="normal" fill="#333" font-family="Liberation Sans, sans-serif">8</text>
<line x1="870.0" y1="112.5" x2="875.5" y2="112.5" stroke="#1f3b48" stroke-width="0.8" />
<line x1="872.7" y1="112.5" x2="872.7" y2="121.5" stroke="#1f3b48" stroke-width="0.8" />
<polygon points="872.7,122.0 871.2,116.5 874.2,116.5" fill="#1f3b48"/>
<circle cx="888.3" cy="113.5" r="4.1" fill="none" stroke="#3a3a3a" stroke-width="0.7" />
<text x="888.3" y="115.6" font-size="5.8" text-anchor="middle" font-style="normal" font-weight="normal" fill="#333" font-family="Liberation Sans, sans-serif">1</text>
<line x1="773.4" y1="161.9" x2="763.5" y2="176.7" stroke="#1f3b48" stroke-width="0.85" />
<line x1="763.5" y1="176.7" x2="793.3" y2="191.6" stroke="#1f3b48" stroke-width="0.85" />
<polygon points="763.9,176.9 773.6,179.9 772.1,182.8" fill="#37312f"/>
<text x="783.0" y="184.4" font-size="11.5" text-anchor="middle" font-style="italic" font-weight="normal" fill="#333" font-family="Liberation Sans, sans-serif" transform="rotate(26.5 783.0 184.4)" textLength="11.3" lengthAdjust="spacingAndGlyphs">80</text>
<line x1="881.8" y1="429.6" x2="881.8" y2="408.0" stroke="#1f3b48" stroke-width="1.5" />
<polygon points="881.8,403.2 883.7,414.2 879.9,414.2" fill="#1f3b48"/>
<text x="888.0" y="426.0" font-size="11" text-anchor="start" font-style="italic" font-weight="normal" fill="#333" font-family="Liberation Sans, sans-serif">K</text>
</svg>
<div class="vm">视图方式</div>
<div class="nt" style="left:433px;top:404.5px;letter-spacing:0.72px">电机轴径过小时，需要配合轴套安装，轴套最小壁厚为 1mm</div>
<div class="nt" style="left:561.3px;top:379.7px;font-size:11.5px;letter-spacing:0.05px">光轴输出</div>
<div class="kx" style="left:381px;top:416px">向</div>
<div class="kx" style="left:896.5px;top:415.5px">向</div>
<div class="lab" style="top:485.8px">级数</div>
<div class="lab" style="top:549.8px">长度<span class="en" style="letter-spacing:0.0px">(mm)</span></div>
<div class="lab" style="top:617.5px">空载力矩<span class="en" style="letter-spacing:0.5px">(Nm)</span></div>
<div class="lab" style="top:650.2px">满载效率<span class="en" style="letter-spacing:0.5px">(%)</span></div>
<div class="lab" style="top:682.8px">回程间隙<span class="en" style="letter-spacing:2.2px">(arcmin)</span></div>
<div class="lab" style="top:715.1px">噪声<span class="en" style="letter-spacing:1.4px">(dB)</span></div>
<div class="lab" style="top:747.5px">重量<span class="en" style="letter-spacing:1.3px">(Kg)</span></div>
<div class="lab" style="top:780.2px">旋转方向</div>
<div class="hd" style="left:245px;width:244px;top:480.5px"><span style="padding-left:13px">单级</span></div>
<div class="hd2" style="left:304.3px;top:492.3px;width:139px"><span class="cj">(包含速比</span>3&nbsp;&nbsp;&nbsp;4&nbsp;&nbsp;&nbsp;5&nbsp;&nbsp;&nbsp;7&nbsp;&nbsp;&nbsp;10)</div>
<div class="hd" style="left:489px;width:244px;top:480.5px">双级</div>
<div class="hd2" style="left:490.4px;top:492.3px;width:241px"><span class="cj">(包含速比</span> 12 16 20 25 28 35 40 50 70 100)</div>
<div class="hd" style="left:732px;width:264px;top:480.5px"><span style="padding-left:3px">三级</span></div>
<div class="hd2 nar" style="left:734.6px;top:492.3px;width:325px"><span class="cj">(包含速比</span> 80 100 125 140 175 200 250 350 400 500 700 1000)</div>
<div class="v abc" style="left:204.1px;top:520.2px;width:160px"><span class="sx">A</span></div>
<div class="v abc" style="left:285.8px;top:518.8px;width:160px"><span class="sx">B</span></div>
<div class="v abc" style="left:366.8px;top:520.2px;width:160px"><span class="sx">C</span></div>
<div class="v abc" style="left:442.3px;top:520.2px;width:160px"><span class="sx">A</span></div>
<div class="v abc" style="left:524.0px;top:518.8px;width:160px"><span class="sx">B</span></div>
<div class="v abc" style="left:612.2px;top:520.2px;width:160px"><span class="sx">C</span></div>
<div class="v abc" style="left:690.9px;top:520.2px;width:160px"><span class="sx">A</span></div>
<div class="v abc" style="left:771.9px;top:518.8px;width:160px"><span class="sx">B</span></div>
<div class="v abc" style="left:864.7px;top:520.2px;width:160px"><span class="sx">C</span></div>
<div class="v" style="left:205.8px;top:552.1px;width:160px">46. 5</div>
<div class="v" style="left:288.6px;top:552.1px;width:160px">143. 5</div>
<div class="v" style="left:369.0px;top:552.1px;width:160px">66. 0</div>
<div class="v" style="left:448.0px;top:552.1px;width:160px">63. 0</div>
<div class="v" style="left:529.7px;top:552.1px;width:160px">160. 0</div>
<div class="v" style="left:613.0px;top:552.1px;width:160px">66. 0</div>
<div class="v" style="left:694.4px;top:552.1px;width:160px">79. 5</div>
<div class="v" style="left:772.3px;top:552.1px;width:160px">176. 5</div>
<div class="v" style="left:864.8px;top:552.1px;width:160px">66. 0</div>
<div class="v" style="left:288.5px;top:619.5px;width:160px"><span class="cjv">约</span>0. 6</div>
<div class="v" style="left:286.5px;top:652.1px;width:160px">95</div>
<div class="v" style="left:289.5px;top:718.1px;width:160px"><span class="le">≤</span>58</div>
<div class="v" style="left:288.5px;top:750.9px;width:160px">2. 2</div>
<div class="v" style="left:531.5px;top:619.5px;width:160px"><span class="cjv">约</span>0. 3</div>
<div class="v" style="left:529.5px;top:652.1px;width:160px">93</div>
<div class="v" style="left:532.5px;top:718.1px;width:160px"><span class="le">≤</span>58</div>
<div class="v" style="left:531.5px;top:750.9px;width:160px">2. 5</div>
<div class="v" style="left:782.5px;top:619.5px;width:160px"><span class="cjv">约</span>0. 3</div>
<div class="v" style="left:780.5px;top:652.1px;width:160px">90</div>
<div class="v" style="left:783.5px;top:718.1px;width:160px"><span class="le">≤</span>58</div>
<div class="v" style="left:782.5px;top:750.9px;width:160px">2. 8</div>
<div class="v gap" style="left:228.6px;top:682.8px;width:160px">精密侧隙 &lt;4</div>
<div class="v gap" style="left:350.2px;top:682.8px;width:160px">标准侧隙 &lt;10</div>
<div class="v gap" style="left:471.5px;top:682.8px;width:160px">精密侧隙 &lt;6</div>
<div class="v gap" style="left:592.0px;top:682.8px;width:160px">标准侧隙 &lt;13</div>
<div class="v gap" style="left:712.0px;top:682.8px;width:160px">精密侧隙 &lt;8</div>
<div class="v gap" style="left:844.0px;top:682.8px;width:160px">标准侧隙 &lt;16</div>
<div class="v gap" style="left:532.0px;top:780.2px;width:160px">输入输出不同向</div>
</body></html>
